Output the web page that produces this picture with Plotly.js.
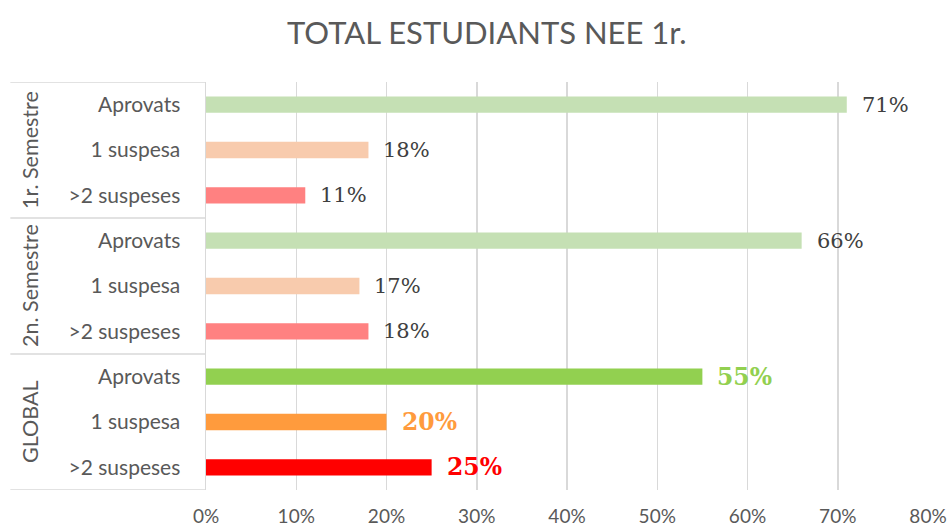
<!DOCTYPE html>
<html>
<head>
<meta charset="utf-8">
<script src="https://cdn.plot.ly/plotly-3.0.1.min.js"></script>
<style>html,body{margin:0;padding:0;background:#fff;}#chart{width:949px;height:528px;}</style>
</head>
<body>
<div id="chart"></div>
<script>
// Data
const groups = ["1r. Semestre", "2n. Semestre", "GLOBAL"];
const subCategories = ["Aprovats", "1 suspesa", ">2 suspeses", "Aprovats", "1 suspesa", ">2 suspeses", "Aprovats", "1 suspesa", ">2 suspeses"];
const values = [71, 18, 11, 66, 17, 18, 55, 20, 25];
const xTickVals = [0, 10, 20, 30, 40, 50, 60, 70, 80];
const xTickText = ["0%", "10%", "20%", "30%", "40%", "50%", "60%", "70%", "80%"];

// Styles
const barColors = ["#C5E0B4", "#F8CBAD", "#FF8181", "#C5E0B4", "#F8CBAD", "#FF8181", "#92D050", "#FF9B3D", "#FF0000"];
const labelColors = ["#404040", "#404040", "#404040", "#404040", "#404040", "#404040", "#92D050", "#FF9B3D", "#FF0000"];
const labelBold = [false, false, false, false, false, false, true, true, true];

const idx = values.map((_, i) => i);
const perGroup = subCategories.length / groups.length;

const trace = {
  type: "bar",
  orientation: "h",
  x: values,
  y: idx,
  width: 0.36,
  marker: { color: barColors },
  hoverinfo: "skip"
};

const annotations = values.map((v, i) => ({
  x: v, y: i, xref: "x", yref: "y",
  text: labelBold[i] ? "<b>" + v + "%</b>" : v + "%",
  showarrow: false, xanchor: "left", yanchor: "middle", xshift: 13,
  font: { family: "DejaVu Serif, Liberation Serif, serif", size: labelBold[i] ? 23.5 : 21, color: labelColors[i] }
}));

groups.forEach((g, gi) => {
  annotations.push({
    x: 0, xref: "paper", xshift: -176,
    y: gi * perGroup + (perGroup - 1) / 2, yref: "y",
    text: g, textangle: -90, showarrow: false,
    xanchor: "center", yanchor: "middle",
    font: { family: "Lato, Open Sans, sans-serif", size: 21.5, color: "#595959" }
  });
});

const shapes = [];
for (let k = 0; k <= groups.length; k++) {
  const yy = k * perGroup - 0.5;
  shapes.push({
    type: "line", xref: "paper", yref: "y",
    x0: -0.271, x1: 0, y0: yy, y1: yy,
    line: { color: "#D9D9D9", width: 1.5 }
  });
}

const layout = {
  width: 949, height: 528,
  margin: { l: 206, r: 21, t: 82, b: 38 },
  paper_bgcolor: "#ffffff", plot_bgcolor: "#ffffff",
  showlegend: false,
  title: {
    text: "TOTAL ESTUDIANTS NEE 1r.",
    x: 0.513, xanchor: "center", y: 0.937, yanchor: "middle",
    font: { family: "Lato, Open Sans, sans-serif", size: 31, color: "#595959" }
  },
  xaxis: {
    range: [0, 80],
    tickvals: xTickVals, ticktext: xTickText,
    showgrid: true, gridcolor: "#D9D9D9", gridwidth: 1.5,
    zeroline: false, showline: false, ticks: "",
    ticklabelstandoff: 13,
    tickfont: { family: "Lato, Open Sans, sans-serif", size: 19, color: "#595959" },
    fixedrange: true
  },
  yaxis: {
    range: [values.length - 0.5, -0.5],
    tickvals: idx, ticktext: subCategories,
    showgrid: false, zeroline: false,
    showline: true, linecolor: "#D9D9D9", linewidth: 1.5,
    ticks: "", ticklabelstandoff: 20,
    tickfont: { family: "Lato, Open Sans, sans-serif", size: 21, color: "#595959" },
    fixedrange: true
  },
  annotations: annotations,
  shapes: shapes
};

Plotly.newPlot("chart", [trace], layout, { displayModeBar: false, staticPlot: true });
</script>
</body>
</html>
